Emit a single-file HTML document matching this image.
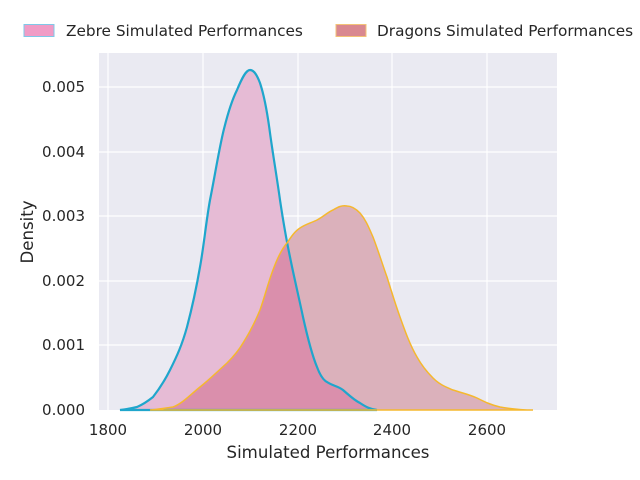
<!DOCTYPE html>
<html><head><meta charset="utf-8"><style>body{margin:0;background:#fff}svg{display:block}text{font-family:"DejaVu Sans","Liberation Sans",sans-serif;fill:#262626}</style></head><body>
<svg width="640" height="480" viewBox="0 0 640 480">
<defs>
<path id="z" d="M120,410 C128,409 133,408 137,407 C144,404 148,401 153,397 C160,388 165,380 170,370 C177,356 182,345 187,327 C192,308 196,290 200,267 C204,245 206,222 210,200 C215,175 218,155 223,133 C228,112 232,100 237,90 C242,78 246,70 250,70 C254,70 257,75 260,83 C264,95 267,110 270,133 C273,155 277,178 280,200 C283,220 286,238 290,257 C294,277 299,298 303,317 C307,335 312,355 317,367 C320,375 323,380 327,382 C333,386 338,386 343,390 C350,396 354,400 360,403 C366,407 370,409 377,410 Z"/>
<path id="d" d="M150,410 C160,409 166,408 173,407 C183,403 190,395 200,387 C210,379 218,371 227,363 C234,356 239,350 243,343 C250,332 255,322 260,310 C265,296 268,283 273,270 C277,259 281,250 287,243 C291,237 295,231 300,228 C306,224 311,223 317,220 C323,217 328,212 333,210 C338,207 342,205 347,206 C352,206 356,209 360,213 C366,220 369,228 373,237 C378,250 382,263 387,277 C391,290 395,303 400,317 C405,331 410,345 417,357 C422,366 427,372 433,378 C440,385 446,387 453,390 C462,393 468,394 477,398 C485,402 491,405 500,407 C512,409 522,410 533,410 Z"/>
<clipPath id="cz"><use href="#z"/></clipPath>
</defs>
<rect x="99" y="53" width="458" height="357" fill="#eaeaf2"/>
<g stroke="#fff" stroke-width="1.2">
<line x1="108" y1="53" x2="108" y2="410"/><line x1="203" y1="53" x2="203" y2="410"/><line x1="298" y1="53" x2="298" y2="410"/><line x1="392" y1="53" x2="392" y2="410"/><line x1="487" y1="53" x2="487" y2="410"/>
<line x1="99" y1="87" x2="557" y2="87"/><line x1="99" y1="152" x2="557" y2="152"/><line x1="99" y1="216" x2="557" y2="216"/><line x1="99" y1="281" x2="557" y2="281"/><line x1="99" y1="345" x2="557" y2="345"/>
</g>
<use href="#z" fill="#e6bbd5"/>
<use href="#d" fill="#dbb1bb"/>
<use href="#d" fill="#da8fac" clip-path="url(#cz)"/>
<use href="#z" fill="none" stroke="#1fa6cc" stroke-width="2.2"/>
<use href="#d" fill="none" stroke="#f5b82e" stroke-width="1.5"/>
<g font-size="15" text-anchor="end">
<text x="85" y="415">0.000</text><text x="85" y="350">0.001</text><text x="85" y="286">0.002</text><text x="85" y="221">0.003</text><text x="85" y="157">0.004</text><text x="85" y="92">0.005</text>
</g>
<g font-size="15" text-anchor="middle">
<text x="108" y="435">1800</text><text x="203" y="435">2000</text><text x="298" y="435">2200</text><text x="392" y="435">2400</text><text x="487" y="435">2600</text>
<text x="328" y="458" font-size="16.6">Simulated Performances</text>
<text transform="translate(33,232) rotate(-90)" font-size="16.6">Density</text>
</g>
<rect x="24" y="24.5" width="30" height="12" fill="#f09cc6" stroke="#7fc8e8" stroke-width="1"/>
<text x="66" y="36" font-size="15.3">Zebre Simulated Performances</text>
<rect x="336" y="24.5" width="30" height="12" fill="#d98890" stroke="#f3c277" stroke-width="1"/>
<text x="377" y="36" font-size="15.3">Dragons Simulated Performances</text>
</svg>
</body></html>
